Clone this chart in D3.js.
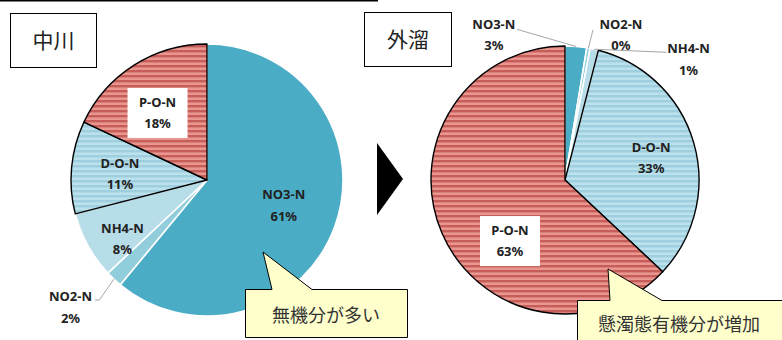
<!DOCTYPE html>
<html><head><meta charset="utf-8">
<script src="https://cdn.jsdelivr.net/npm/d3@7"></script>
<style>
  body { margin: 0; background: #fff; }
  svg { display: block; }
</style>
</head>
<body>
<svg id="chart" width="782" height="340"></svg>
<script>
// Nitrogen composition (%) at two sampling points
const categories = ["NO3-N", "NO2-N", "NH4-N", "D-O-N", "P-O-N"];
const nakagawaValues = [61, 2, 8, 11, 18];
const sotodameValues = [2.6, 0.4, 1.0, 33.0, 63.0];
const siteNames = ["中川", "外溜"];
const calloutTexts = ["無機分が多い", "懸濁態有機分が増加"];

const svg = d3.select("#chart");
const defs = svg.append("defs");

// horizontal stripe fills for the organic fractions
function stripes(id, light, dark) {
  const p = defs.append("pattern").attr("id", id)
    .attr("patternUnits", "userSpaceOnUse").attr("width", 10).attr("height", 5);
  p.append("rect").attr("width", 10).attr("height", 5).attr("fill", light);
  p.append("rect").attr("y", 0).attr("width", 10).attr("height", 2.4).attr("fill", dark);
}
stripes("stripeBlue", "#BBE1ED", "#9FCEDF");
stripes("stripeRed", "#E8968F", "#C65D59");

const fills = d3.scaleOrdinal().domain(categories)
  .range(["#4BACC6", "#92CDDC", "#B7DDE8", "url(#stripeBlue)", "url(#stripeRed)"]);
const outlined = new Set(["D-O-N", "P-O-N"]);

const labelFont = "'Noto Sans', 'Liberation Sans', sans-serif";
const cjkFont = "'Noto Sans CJK JP', sans-serif";

// top rule
svg.append("line").attr("x1", 0).attr("x2", 378).attr("y1", 0.75).attr("y2", 0.75)
  .attr("stroke", "#000").attr("stroke-width", 1.5);

function drawPie(values, cx, cy, r, layout) {
  const data = categories.map((c, i) => ({ cat: c, value: values[i] }));
  const total = d3.sum(values);
  const pie = d3.pie().sort(null).value(d => d.value);
  const arcs = pie(data);
  const arc = d3.arc().innerRadius(0).outerRadius(r);
  const g = svg.append("g").attr("transform", `translate(${cx},${cy})`);

  // plain slices first, then outlined slices on top
  const ordered = arcs.filter(a => !outlined.has(a.data.cat))
    .concat(arcs.filter(a => outlined.has(a.data.cat)));
  g.selectAll("path.slice").data(ordered).join("path")
    .attr("class", "slice")
    .attr("d", arc)
    .attr("fill", d => fills(d.data.cat))
    .attr("stroke", d => outlined.has(d.data.cat) ? "#000" : "#fff")
    .attr("stroke-width", d => outlined.has(d.data.cat) ? 1.4 : 1.6)
    .attr("stroke-linejoin", "round");

  const lineGap = 21.5;
  arcs.forEach(a => {
    const L = layout[a.data.cat];
    const pct = Math.round(a.data.value / total * 100) + "%";
    let x, y;
    if (L.leader) {
      const edge = d3.arc().innerRadius(r).outerRadius(r).centroid(a);
      const pts = [edge].concat(L.leader.map(o => [edge[0] + o[0], edge[1] + o[1]]));
      g.append("path").attr("d", d3.line()(pts))
        .attr("fill", "none").attr("stroke", "#A6A6A6").attr("stroke-width", 1);
      x = edge[0] + L.text[0];
      y = edge[1] + L.text[1];
    } else {
      const c = d3.arc().innerRadius(r * L.k).outerRadius(r * L.k).centroid(a);
      x = c[0] + L.dx;
      y = c[1] + L.dy;
    }
    if (L.box) {
      g.append("rect").attr("x", x - 30).attr("y", y - 25)
        .attr("width", 60).attr("height", 50).attr("fill", "#fff");
    }
    const t = g.append("text").attr("text-anchor", "middle")
      .attr("font-family", labelFont).attr("font-weight", "bold")
      .attr("font-size", 13).attr("fill", "#222");
    t.append("tspan").attr("x", x).attr("y", y - lineGap / 2 + 4.6).text(a.data.cat);
    t.append("tspan").attr("x", x).attr("y", y + lineGap / 2 + 4.6).text(pct);
  });
}

drawPie(nakagawaValues, 207, 180, 136, {
  "NO3-N": { k: 0.6, dx: 0, dy: -2 },
  "NO2-N": { leader: [[-14.6, 20.9], [-18.9, 20.9]], text: [-43.4, 28.4] },
  "NH4-N": { k: 0.76, dx: 6, dy: 9 },
  "D-O-N": { k: 0.68, dx: 5, dy: 2.5 },
  "P-O-N": { k: 0.61, dx: -5, dy: 3, box: true }
});

drawPie(sotodameValues, 565, 180, 134, {
  "NO3-N": { leader: [[-58.9, -17.1]], text: [-82.1, -11.7] },
  "NO2-N": { leader: [[4.5, -18.1]], text: [32.5, -13.4] },
  "NH4-N": { leader: [[72.5, 3.1]], text: [94.3, 10] },
  "D-O-N": { k: 0.67, dx: 0, dy: 3 },
  "P-O-N": { k: 0.61, dx: 20, dy: 28.6, box: true }
});

// site name boxes
[[10.5, 13.5, 86, 54], [364.5, 12.5, 87, 54]].forEach((b, i) => {
  svg.append("rect").attr("x", b[0]).attr("y", b[1]).attr("width", b[2]).attr("height", b[3])
    .attr("fill", "#fff").attr("stroke", "#000").attr("stroke-width", 1);
  svg.append("text").attr("x", b[0] + b[2] / 2).attr("y", b[1] + b[3] / 2 + 7.5)
    .attr("text-anchor", "middle").attr("font-family", cjkFont)
    .attr("font-size", 21).attr("fill", "#222").text(siteNames[i]);
});

// arrow between the pies
svg.append("path").attr("d", "M377,143 L403,179 L377,215 Z").attr("fill", "#000");

// speech-bubble callouts
const callouts = [
  { d: "M245.5,289.5 L272,289.5 L263,252 L312,289.5 L407.5,289.5 L407.5,337.5 L245.5,337.5 Z", tx: 326, ty: 321.5 },
  { d: "M577.5,300.5 L610,300.5 L608,269 L662,300.5 L790,300.5 L790,350 L577.5,350 Z", tx: 679, ty: 331 }
];
callouts.forEach((c, i) => {
  svg.append("path").attr("d", c.d).attr("fill", "#FFFFCC")
    .attr("stroke", "#000").attr("stroke-width", 1).attr("stroke-linejoin", "miter");
  svg.append("text").attr("x", c.tx).attr("y", c.ty).attr("text-anchor", "middle")
    .attr("font-family", cjkFont).attr("font-size", 18).attr("fill", "#333")
    .text(calloutTexts[i]);
});
</script>
</body></html>
